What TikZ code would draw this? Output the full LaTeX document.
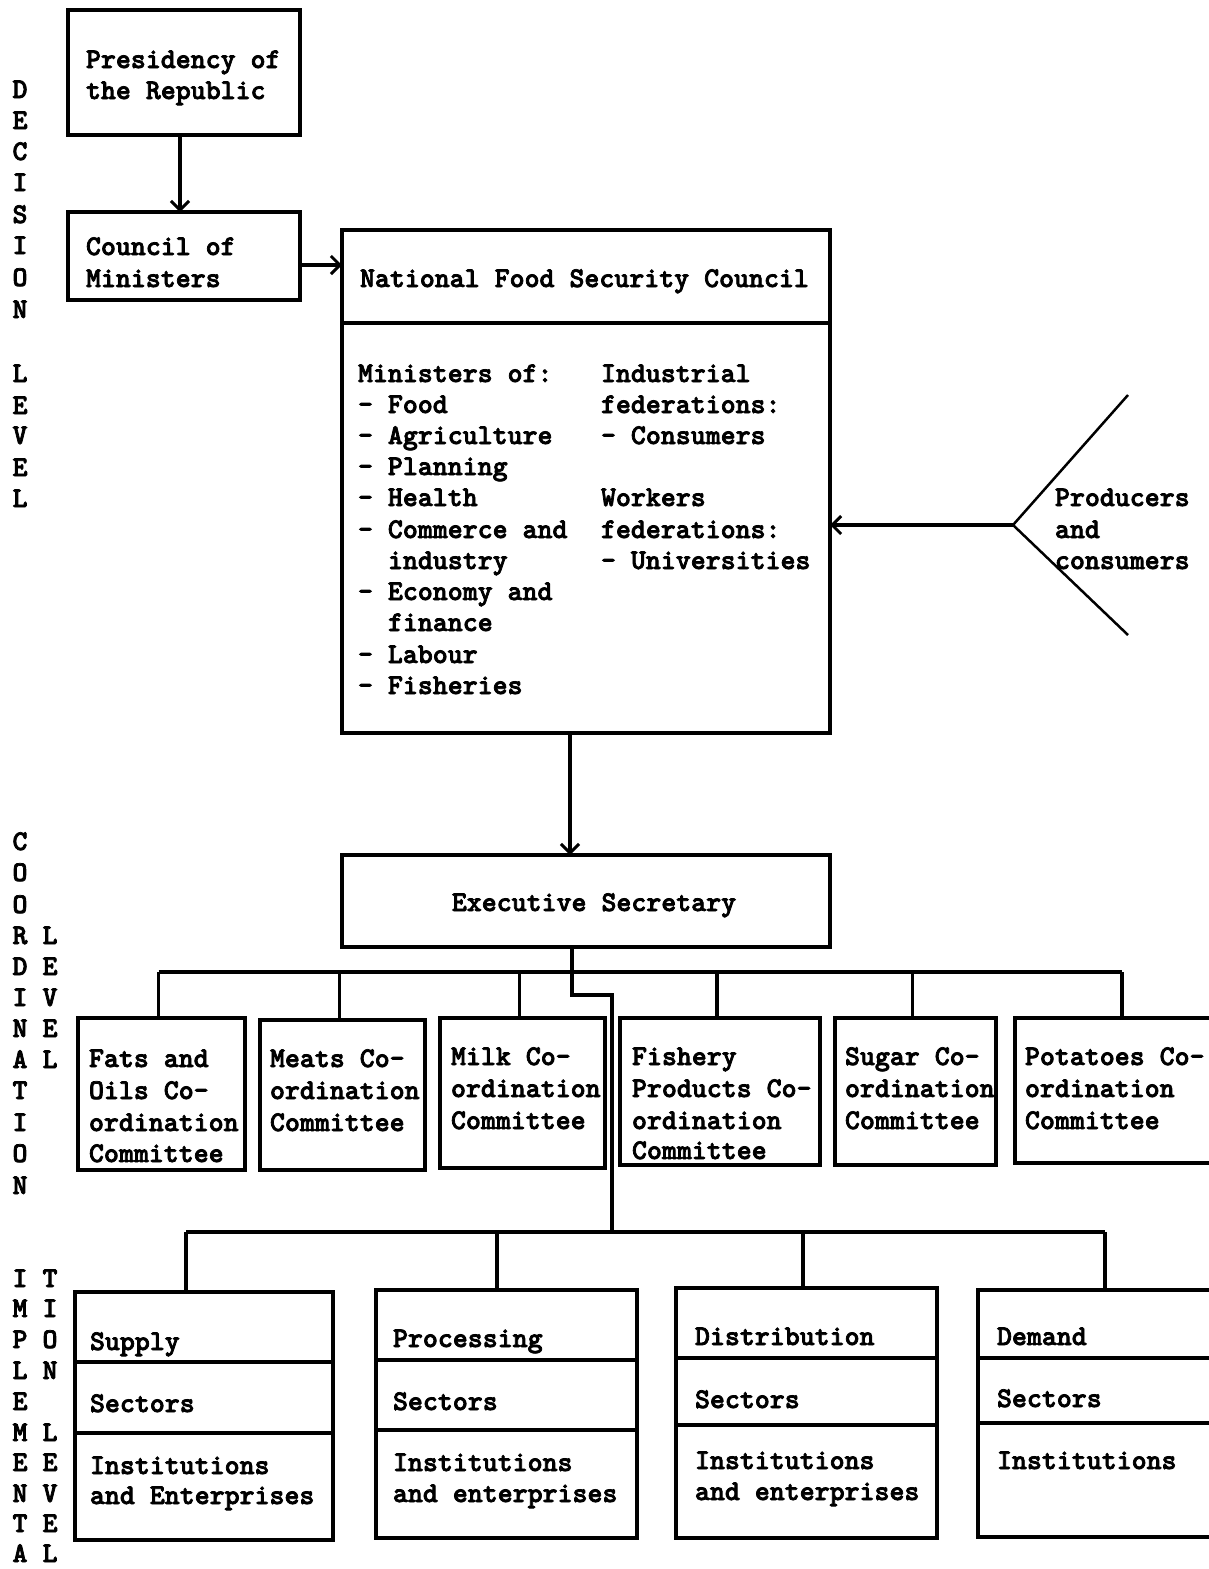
\documentclass[tikz,border=0pt]{standalone}
\usepackage{fontspec}
\usetikzlibrary{arrows.meta,calc}
\newfontfamily\twfam[Extension=.otf,FakeBold=2.6]{lmmonolt10-bold}
\newcommand{\tw}{\twfam\fontsize{28.5}{31}\selectfont}
\begin{document}
\begin{tikzpicture}[x=1pt,y=-1pt,
  every node/.style={inner sep=0pt, outer sep=0pt},
  box/.style={draw, line width=3.2pt, anchor=north west},
  tx/.style={anchor=base west, font=\tw},
  lbl/.style={anchor=base, font=\tw},
  conn/.style={line width=3.2pt},
  arr/.style={line width=3.2pt, -{Straight Barb[length=9pt,width=18pt,line width=3pt]}},
  vline/.style={line width=2.5pt}
]
\useasboundingbox (0,0) rectangle (1209,1569);
\fill[white] (0,0) rectangle (1209,1569);
\clip (0,0) rectangle (1209,1569);

% ---------- Decision level boxes
\node[box, minimum width=232, minimum height=125] (pres) at (68,10) {};
\node[tx] (pres1) at (86,68) {Presidency of};
\node[tx] (pres2) at (86,99) {the Republic};

\node[box, minimum width=232, minimum height=88] (council) at (68,212) {};
\node[tx] (coun1) at (86,255) {Council of};
\node[tx] (coun2) at (86,287) {Ministers};

\node[box, minimum width=488, minimum height=503] (nfsc) at (342,230) {};
\draw[conn] ($(nfsc.north west)+(0,93)$) -- ($(nfsc.north east)+(0,93)$);
\node[tx] (nfsct) at (360,287) {National Food Security Council};
\foreach \t/\x/\y [count=\i] in {Ministers of:/358/382, - Food/358/413, - Agriculture/358/444,
   - Planning/358/475, - Health/358/506, - Commerce and/358/538, industry/388/569,
   - Economy and/358/600, finance/388/631, - Labour/358/663, - Fisheries/358/694,
   Industrial/601/382, federations:/601/413, - Consumers/601/444, Workers/601/506,
   federations:/601/538, - Universities/601/569}
  \node[tx] (nf\i) at (\x,\y) {\t};

% producers and consumers
\coordinate (vtip) at (1013,525);
\coordinate (vup) at (1128,395);
\coordinate (vdn) at (1128,635);
\draw[vline] (vup) -- (vtip) -- (vdn);
\node[tx] (pc1) at (1055,506) {Producers};
\node[tx] (pc2) at (1055,538) {and};
\node[tx] (pc3) at (1055,569) {consumers};

% ---------- Coordination
\node[box, minimum width=488, minimum height=92] (exec) at (342,855) {};
\node[lbl] (exect) at (594,911) {Executive Secretary};

\node[box, minimum width=167, minimum height=152] (c1) at (78,1018) {};
\node[box, minimum width=165, minimum height=150] (c2) at (260,1020) {};
\node[box, minimum width=165, minimum height=150] (c3) at (440,1018) {};
\node[box, minimum width=200, minimum height=147] (c4) at (620,1018) {};
\node[box, minimum width=161, minimum height=147] (c5) at (835,1018) {};
\node[box, minimum width=220, minimum height=145] (c6) at (1015,1018) {};

\foreach \t/\x/\y [count=\i] in {Fats and/89/1067, Oils Co-/89/1099, ordination/89/1131, Committee/89/1162,
   Meats Co-/270/1067, ordination/270/1099, Committee/270/1131,
   Milk Co-/451/1065, ordination/451/1097, Committee/451/1129,
   Fishery/632/1065, Products Co-/632/1097, ordination/632/1129, Committee/632/1159,
   Sugar Co-/845/1065, ordination/845/1097, Committee/845/1129,
   Potatoes Co-/1025/1065, ordination/1025/1097, Committee/1025/1129}
  \node[tx] (ct\i) at (\x,\y) {\t};

% ---------- Implementation
\node[box, minimum width=258, minimum height=248] (b1) at (75,1292) {};
\node[box, minimum width=261, minimum height=248] (b2) at (376,1290) {};
\node[box, minimum width=261, minimum height=250] (b3) at (676,1288) {};
\node[box, minimum width=262, minimum height=247] (b4) at (978,1290) {};
\draw[conn] ($(b1.north west)+(0,70)$) -- ($(b1.north east)+(0,70)$);
\draw[conn] ($(b1.north west)+(0,141)$) -- ($(b1.north east)+(0,141)$);
\draw[conn] ($(b2.north west)+(0,70)$) -- ($(b2.north east)+(0,70)$);
\draw[conn] ($(b2.north west)+(0,140)$) -- ($(b2.north east)+(0,140)$);
\draw[conn] ($(b3.north west)+(0,70)$) -- ($(b3.north east)+(0,70)$);
\draw[conn] ($(b3.north west)+(0,137)$) -- ($(b3.north east)+(0,137)$);
\draw[conn] ($(b4.north west)+(0,68)$) -- ($(b4.north east)+(0,68)$);
\draw[conn] ($(b4.north west)+(0,133)$) -- ($(b4.north east)+(0,133)$);

\foreach \t/\x/\y [count=\i] in {Supply/90/1350, Sectors/90/1412, Institutions/90/1474, and Enterprises/90/1504,
   Processing/393/1347, Sectors/393/1410, Institutions/393/1471, and enterprises/393/1502,
   Distribution/695/1345, Sectors/695/1408, Institutions/695/1469, and enterprises/695/1500,
   Demand/997/1345, Sectors/997/1407, Institutions/997/1469}
  \node[tx] (bt\i) at (\x,\y) {\t};

% ---------- Side labels
\foreach \l/\y [count=\i] in {D/88,E/119,C/150,I/181,S/213,I/244,O/276,N/308,L/372,E/404,V/434,E/466,L/497}
  \node[lbl] (sd\i) at (20,\y+10) {\l};
\foreach \l/\y [count=\i] in {C/840,O/871,O/903,R/934,D/965,I/996,N/1027,A/1058,T/1089,I/1121,O/1152,N/1184}
  \node[lbl] (sc\i) at (20,\y+10) {\l};
\foreach \l/\y [count=\i] in {L/934,E/965,V/996,E/1027,L/1058}
  \node[lbl] (sl\i) at (50,\y+10) {\l};
\foreach \l/\y [count=\i] in {I/1277,M/1307,P/1338,L/1369,E/1400,M/1431,E/1461,N/1492,T/1522,A/1552}
  \node[lbl] (si\i) at (20,\y+10) {\l};
\foreach \l/\y [count=\i] in {T/1277,I/1307,O/1338,N/1369,L/1431,E/1461,V/1492,E/1522,L/1552}
  \node[lbl] (sj\i) at (50,\y+10) {\l};

% ---------- Connectors
\draw[arr] ($(pres.south)+(-4,0)$) -- ($(council.north)+(-4,0)$);
\draw[arr] ($(council.east)+(0,9)$) -- ($(council.east -| nfsc.west)+(0,9)$);
\draw[arr] (vtip) -- (vtip -| nfsc.east);
\draw[arr] ($(nfsc.south)+(-16,0)$) -- ($(exec.north)+(-16,0)$);

\coordinate (bus) at (572,972);
\draw[conn] ($(exec.south)+(-14,0)$) -- (bus);
\draw[conn] ($(c1.north |- bus)+(-3,0)$) -- ($(c6.north |- bus)+(-3,0)$);
\foreach \c in {c1,c2,c3,c4,c5,c6}
  \draw[conn] ($(\c.north)+(-3,0)$) -- ($(\c.north |- bus)+(-3,0)$);

\coordinate (jog) at (612,995);
\coordinate (bus2) at (612,1232);
\draw[conn] (bus) -- (bus |- jog) -- (jog) -- (bus2);

\coordinate (t1) at (186,1232);
\coordinate (t2) at (497,1232);
\coordinate (t3) at (803,1232);
\coordinate (t4) at (1105,1232);
\draw[conn] (t1) -- (t4);
\draw[conn] (t1) -- (t1 |- b1.north);
\draw[conn] (t2) -- (t2 |- b2.north);
\draw[conn] (t3) -- (t3 |- b3.north);
\draw[conn] (t4) -- (t4 |- b4.north);
\end{tikzpicture}
\end{document}
